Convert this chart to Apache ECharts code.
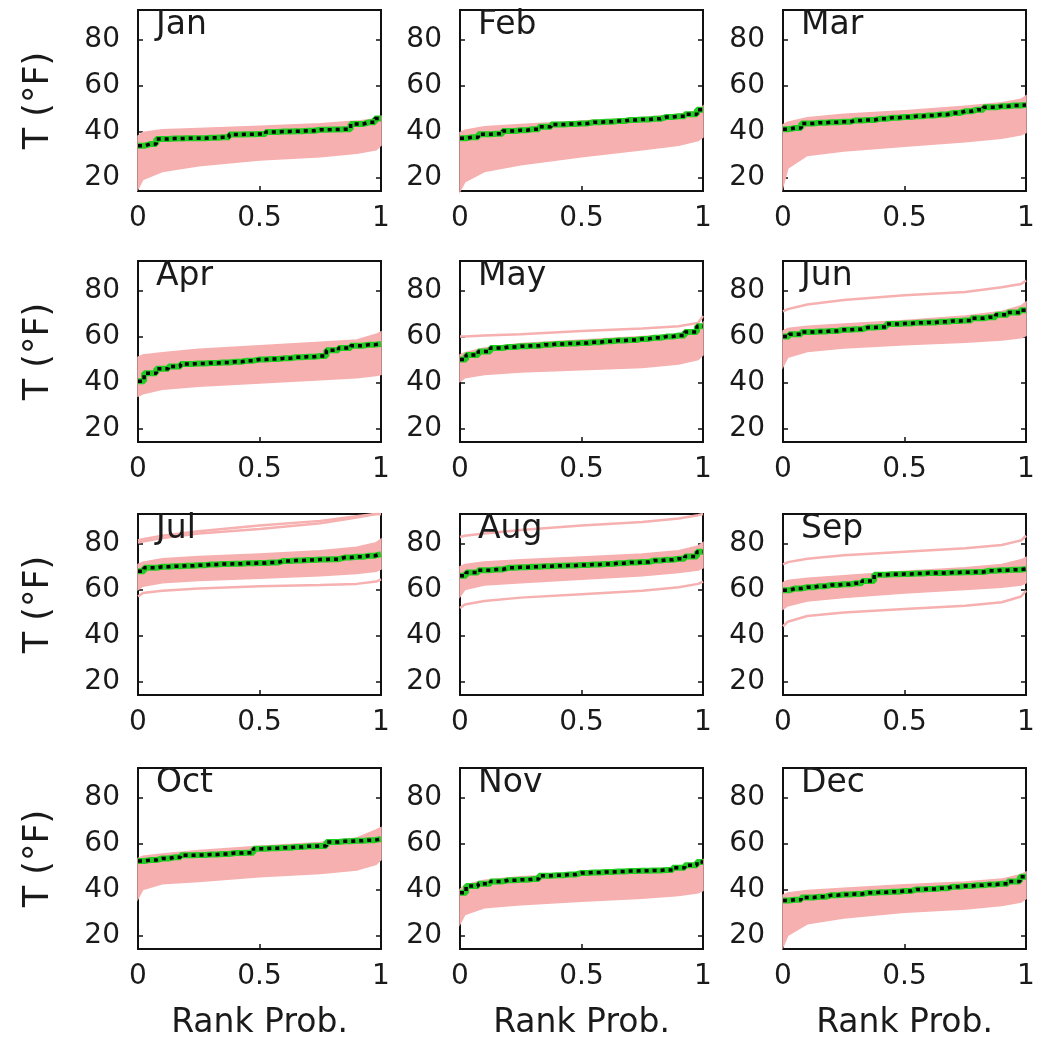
<!DOCTYPE html>
<html><head><meta charset="utf-8">
<script src="https://cdn.jsdelivr.net/npm/echarts@6/dist/echarts.min.js"></script>
<style>html,body{margin:0;padding:0;background:#fff}#c{width:1038px;height:1043px}</style>
</head><body><div id="c"></div><script>
const MONTHS = ['Jan','Feb','Mar','Apr','May','Jun','Jul','Aug','Sep','Oct','Nov','Dec'];
const BAND_X = [0, 0.02, 0.1, 0.25, 0.5, 0.75, 0.9, 0.98, 1];
const OBS_X = [0,0.05,0.1,0.15,0.2,0.25,0.3,0.35,0.4,0.45,0.5,0.55,0.6,0.65,0.7,0.75,0.8,0.85,0.9,0.95,1];
const Y_TICKS = [20, 40, 60, 80];
const X_TICKS = [0, 0.5, 1];
const Y_RANGE = [14, 93];

// ensemble band (lower / upper envelope) at BAND_X
const LO_JAN = [15, 19, 22.5, 25, 27.5, 29, 30.5, 32, 34];
const HI_JAN = [38, 39.5, 40.7, 41.3, 42.3, 43.3, 44.5, 45.5, 46.5];
const LO_FEB = [14, 18, 22.5, 25.5, 29, 32, 34, 36, 37.5];
const HI_FEB = [39.5, 40.5, 42, 43, 44.5, 46, 47.5, 49, 51];
const LO_MAR = [16, 24, 29.5, 31.5, 33.5, 35.5, 37, 38.5, 39.5];
const HI_MAR = [43, 44, 46, 47.5, 49, 51, 52.5, 54, 55.5];
const LO_APR = [34, 35, 37, 38.3, 39.8, 41.2, 42, 43, 43.5];
const HI_APR = [51, 52, 53, 54.5, 56, 57.5, 58.5, 61, 62];
const LO_MAY = [40.5, 42, 43.5, 44.5, 45.5, 46.5, 48, 50, 52];
const HI_MAY = [52, 53, 55, 57, 58.5, 60, 61, 63, 66];
const LO_JUN = [47, 51, 53.5, 55, 56.5, 57.5, 58.5, 59.5, 60.5];
const HI_JUN = [62.5, 63.5, 64.5, 65.5, 67, 69, 71, 73.5, 75];
const LO_JUL = [60, 61.5, 63, 64, 65, 66, 67, 68, 69];
const HI_JUL = [71, 72, 73.5, 74.5, 75.5, 77, 78.5, 80.5, 82];
const LO_AUG = [57, 60, 62, 63, 64.5, 66, 67.5, 68.5, 69.5];
const HI_AUG = [70, 71, 72, 73, 74.2, 75.5, 77, 79, 80.5];
const LO_SEP = [51.5, 53, 55, 56.5, 58.5, 60, 61, 62, 63];
const HI_SEP = [63, 64, 65, 66, 68, 69.5, 71, 73, 74];
const LO_OCT = [36, 40, 42.5, 43.5, 45.5, 47, 48.5, 51, 53];
const HI_OCT = [53.5, 54.5, 55.5, 57, 58.8, 60.5, 62.5, 66, 67];
const LO_NOV = [25, 29, 32, 33.3, 34.8, 36.2, 37.4, 38.5, 39.5];
const HI_NOV = [40, 42, 44, 45.5, 47, 48.3, 49.5, 52, 53];
const LO_DEC = [15, 20, 25, 27.5, 30, 31.5, 33, 34.5, 36];
const HI_DEC = [37.5, 38.5, 39.5, 40.5, 42, 43.2, 44.5, 46.5, 47.5];

// separate ensemble members lying outside the main band, at BAND_X
const OUT_MAY_1 = [60, 60, 60.5, 61, 62.5, 63.5, 64.5, 66, 69];
const OUT_JUN_1 = [71, 72, 74, 76, 78, 79.5, 81.5, 83, 84.5];
const OUT_JUL_1 = [81.5, 82, 83.5, 85.5, 88, 90, 92, 93, 93];
const OUT_JUL_2 = [80.5, 81, 82.5, 84.5, 86.5, 89, 91.5, 93, 93];
const OUT_JUL_3 = [57, 58.5, 59.5, 60.5, 61.5, 62, 62.5, 63.5, 64.5];
const OUT_AUG_1 = [83, 83.5, 84.5, 86, 88, 89.5, 91, 92.5, 93];
const OUT_AUG_2 = [52, 53.5, 55, 56.5, 58, 59.5, 61, 62.5, 63.5];
const OUT_SEP_1 = [71, 72, 73.5, 75, 76.5, 78, 79.5, 81.5, 83.5];
const OUT_SEP_2 = [44, 46, 48.5, 50, 51.5, 53, 54.5, 57, 59.5];

// observed ranked temperatures at OBS_X
const OBS_JAN = [33.7, 34.5, 36.7, 36.9, 37, 37, 37.2, 37.5, 38.7, 38.8, 38.9, 39.8, 40, 40.1, 40.3, 40.7, 40.8, 41, 43.2, 44, 45.6];
const OBS_FEB = [37, 37.5, 38.8, 39, 40.2, 40.5, 41, 42, 43, 43.2, 43.5, 44, 44.2, 44.5, 45, 45.2, 45.5, 46.3, 46.6, 47.5, 49.5];
const OBS_MAR = [41, 41.5, 43.5, 43.8, 44, 44.2, 44.8, 45, 45.5, 46, 46.3, 46.6, 47, 47.4, 48, 48.8, 49.5, 50.5, 51, 51.3, 51.5];
const OBS_APR = [40.5, 44, 46, 47, 48, 48.3, 48.5, 48.7, 49, 49.5, 50, 50.2, 50.5, 51, 51.2, 51.5, 54, 55, 56, 56.5, 56.8];
const OBS_MAY = [50, 52, 53.5, 55, 55.5, 55.8, 56, 56.5, 56.8, 57, 57.2, 57.5, 58, 58.3, 58.5, 59, 59.5, 60, 60.5, 62, 64.5];
const OBS_JUN = [60, 61, 62, 62.2, 62.5, 63, 63.2, 64, 64.2, 65.5, 65.7, 66, 66.2, 66.5, 66.8, 67, 68, 68.5, 69.5, 70.5, 71.5];
const OBS_JUL = [68, 69.5, 70, 70.2, 70.4, 70.6, 71, 71.2, 71.3, 71.5, 71.6, 71.8, 72.5, 72.7, 72.9, 73.1, 73.3, 74, 74.3, 74.8, 75.5];
const OBS_AUG = [66, 67.5, 68.5, 68.8, 69.5, 69.8, 70, 70.2, 70.4, 70.5, 70.7, 71, 71.2, 71.5, 71.8, 72, 72.7, 73, 73.5, 74.5, 76.5];
const OBS_SEP = [59.7, 60.5, 61, 61.5, 62, 62.3, 62.8, 63.8, 66.5, 66.7, 66.8, 67, 67.2, 67.3, 67.5, 67.6, 67.7, 68.2, 68.5, 68.7, 69];
const OBS_OCT = [52.4, 52.8, 53.5, 54, 54.9, 55, 55.2, 55.5, 55.9, 56, 57.8, 58, 58.2, 58.5, 58.8, 59, 60.7, 61, 61.2, 61.5, 62];
const OBS_NOV = [38.5, 41.5, 42.5, 43.5, 44, 44.2, 44.5, 46, 46.2, 46.5, 47.2, 47.4, 47.6, 47.8, 48, 48.2, 48.3, 48.5, 49.5, 50.5, 52];
const OBS_DEC = [35.2, 35.5, 36.5, 36.8, 37.5, 37.8, 38, 38.5, 38.8, 39, 39.3, 40, 40.2, 40.5, 41.2, 41.5, 41.8, 42.2, 42.5, 43.5, 45.5];

const LO = [LO_JAN, LO_FEB, LO_MAR, LO_APR, LO_MAY, LO_JUN, LO_JUL, LO_AUG, LO_SEP, LO_OCT, LO_NOV, LO_DEC];
const HI = [HI_JAN, HI_FEB, HI_MAR, HI_APR, HI_MAY, HI_JUN, HI_JUL, HI_AUG, HI_SEP, HI_OCT, HI_NOV, HI_DEC];
const OBS = [OBS_JAN, OBS_FEB, OBS_MAR, OBS_APR, OBS_MAY, OBS_JUN, OBS_JUL, OBS_AUG, OBS_SEP, OBS_OCT, OBS_NOV, OBS_DEC];
const OUT = [[], [], [], [], [OUT_MAY_1], [OUT_JUN_1], [OUT_JUL_1, OUT_JUL_2, OUT_JUL_3], [OUT_AUG_1, OUT_AUG_2], [OUT_SEP_1, OUT_SEP_2], [], [], []];

const COL_LEFT = [138, 460, 783];
const ROW_TOP = [10, 261, 514, 768];
const PW = 243, PH = 181;
const PINK = '#f6b0b0';
const GREEN = '#22cc22';
const FONT = 'DejaVu Sans';
const TXT = '#1a1a1a';

const grid = [], xAxis = [], yAxis = [], series = [], title = [];
const zip = (xs, ys) => xs.map((x, k) => [x, ys[k]]);

MONTHS.forEach((m, i) => {
  const r = Math.floor(i / 3), c = i % 3;
  grid.push({left: COL_LEFT[c], top: ROW_TOP[r], width: PW, height: PH,
    show: true, borderColor: '#111', borderWidth: 2, backgroundColor: 'transparent'});
  xAxis.push({gridIndex: i, type: 'value', min: 0, max: 1, interval: 0.5,
    axisLine: {show: false}, splitLine: {show: false},
    axisTick: {show: true, inside: true, length: 5, lineStyle: {color: '#111', width: 1.5}},
    axisLabel: {show: true, margin: 14, fontSize: 28, fontFamily: FONT, color: TXT,
      formatter: v => String(v)},
    name: r === 3 ? 'Rank Prob.' : '', nameLocation: 'middle', nameGap: 58,
    nameTextStyle: {fontSize: 33, fontFamily: FONT, color: TXT}});
  yAxis.push({gridIndex: i, type: 'value', min: Y_RANGE[0], max: Y_RANGE[1],
    axisLine: {show: false}, splitLine: {show: false},
    axisTick: {show: true, inside: true, length: 5, customValues: Y_TICKS, lineStyle: {color: '#111', width: 1.5}},
    axisLabel: {show: true, margin: 18, fontSize: 28, fontFamily: FONT, color: TXT, customValues: Y_TICKS},
    name: c === 0 ? 'T (°F)' : '', nameLocation: 'middle', nameGap: 82, nameRotate: 90,
    nameTextStyle: {fontSize: 35, fontFamily: FONT, color: TXT}});
  yAxis.push({gridIndex: i, type: 'value', min: Y_RANGE[0], max: Y_RANGE[1], position: 'right',
    axisLine: {show: false}, splitLine: {show: false},
    axisTick: {show: true, inside: true, length: 5, customValues: Y_TICKS, lineStyle: {color: '#111', width: 1.5}},
    axisLabel: {show: false}});
  title.push({text: m, left: COL_LEFT[c] + 18, top: ROW_TOP[r] - 1, padding: 0,
    textStyle: {fontSize: 33, fontWeight: 'normal', fontFamily: FONT, color: TXT}});

  const yi = i * 2;
  const lo = LO[i], hi = HI[i];
  series.push({type: 'custom', xAxisIndex: i, yAxisIndex: yi, silent: true, z: 1,
    data: BAND_X.map((x, k) => [x, lo[k], hi[k]]),
    encode: {x: 0, y: [1, 2]},
    renderItem: (params, api) => {
      if (params.dataIndex !== 0) return null;
      const pts = [];
      BAND_X.forEach((x, k) => pts.push(api.coord([x, hi[k]])));
      for (let k = BAND_X.length - 1; k >= 0; k--) pts.push(api.coord([BAND_X[k], lo[k]]));
      return {type: 'polygon', shape: {points: pts}, style: {fill: PINK, stroke: PINK, lineWidth: 1.5}};
    }});
  OUT[i].forEach(o => series.push({type: 'line', xAxisIndex: i, yAxisIndex: yi, symbol: 'none', silent: true,
    lineStyle: {color: PINK, width: 2.5}, data: zip(BAND_X, o), z: 1}));
  series.push({type: 'line', xAxisIndex: i, yAxisIndex: yi, symbol: 'none', silent: true, step: 'middle',
    lineStyle: {color: GREEN, width: 6}, data: zip(OBS_X, OBS[i]), z: 3});
  series.push({type: 'line', xAxisIndex: i, yAxisIndex: yi, symbol: 'none', silent: true, step: 'middle',
    lineStyle: {color: '#000', width: 3.5, type: [4, 4]}, data: zip(OBS_X, OBS[i]), z: 4});
});

const chart = echarts.init(document.getElementById('c'), null, {renderer: 'canvas'});
chart.setOption({animation: false, backgroundColor: '#fff', title, grid, xAxis, yAxis, series});
</script></body></html>
